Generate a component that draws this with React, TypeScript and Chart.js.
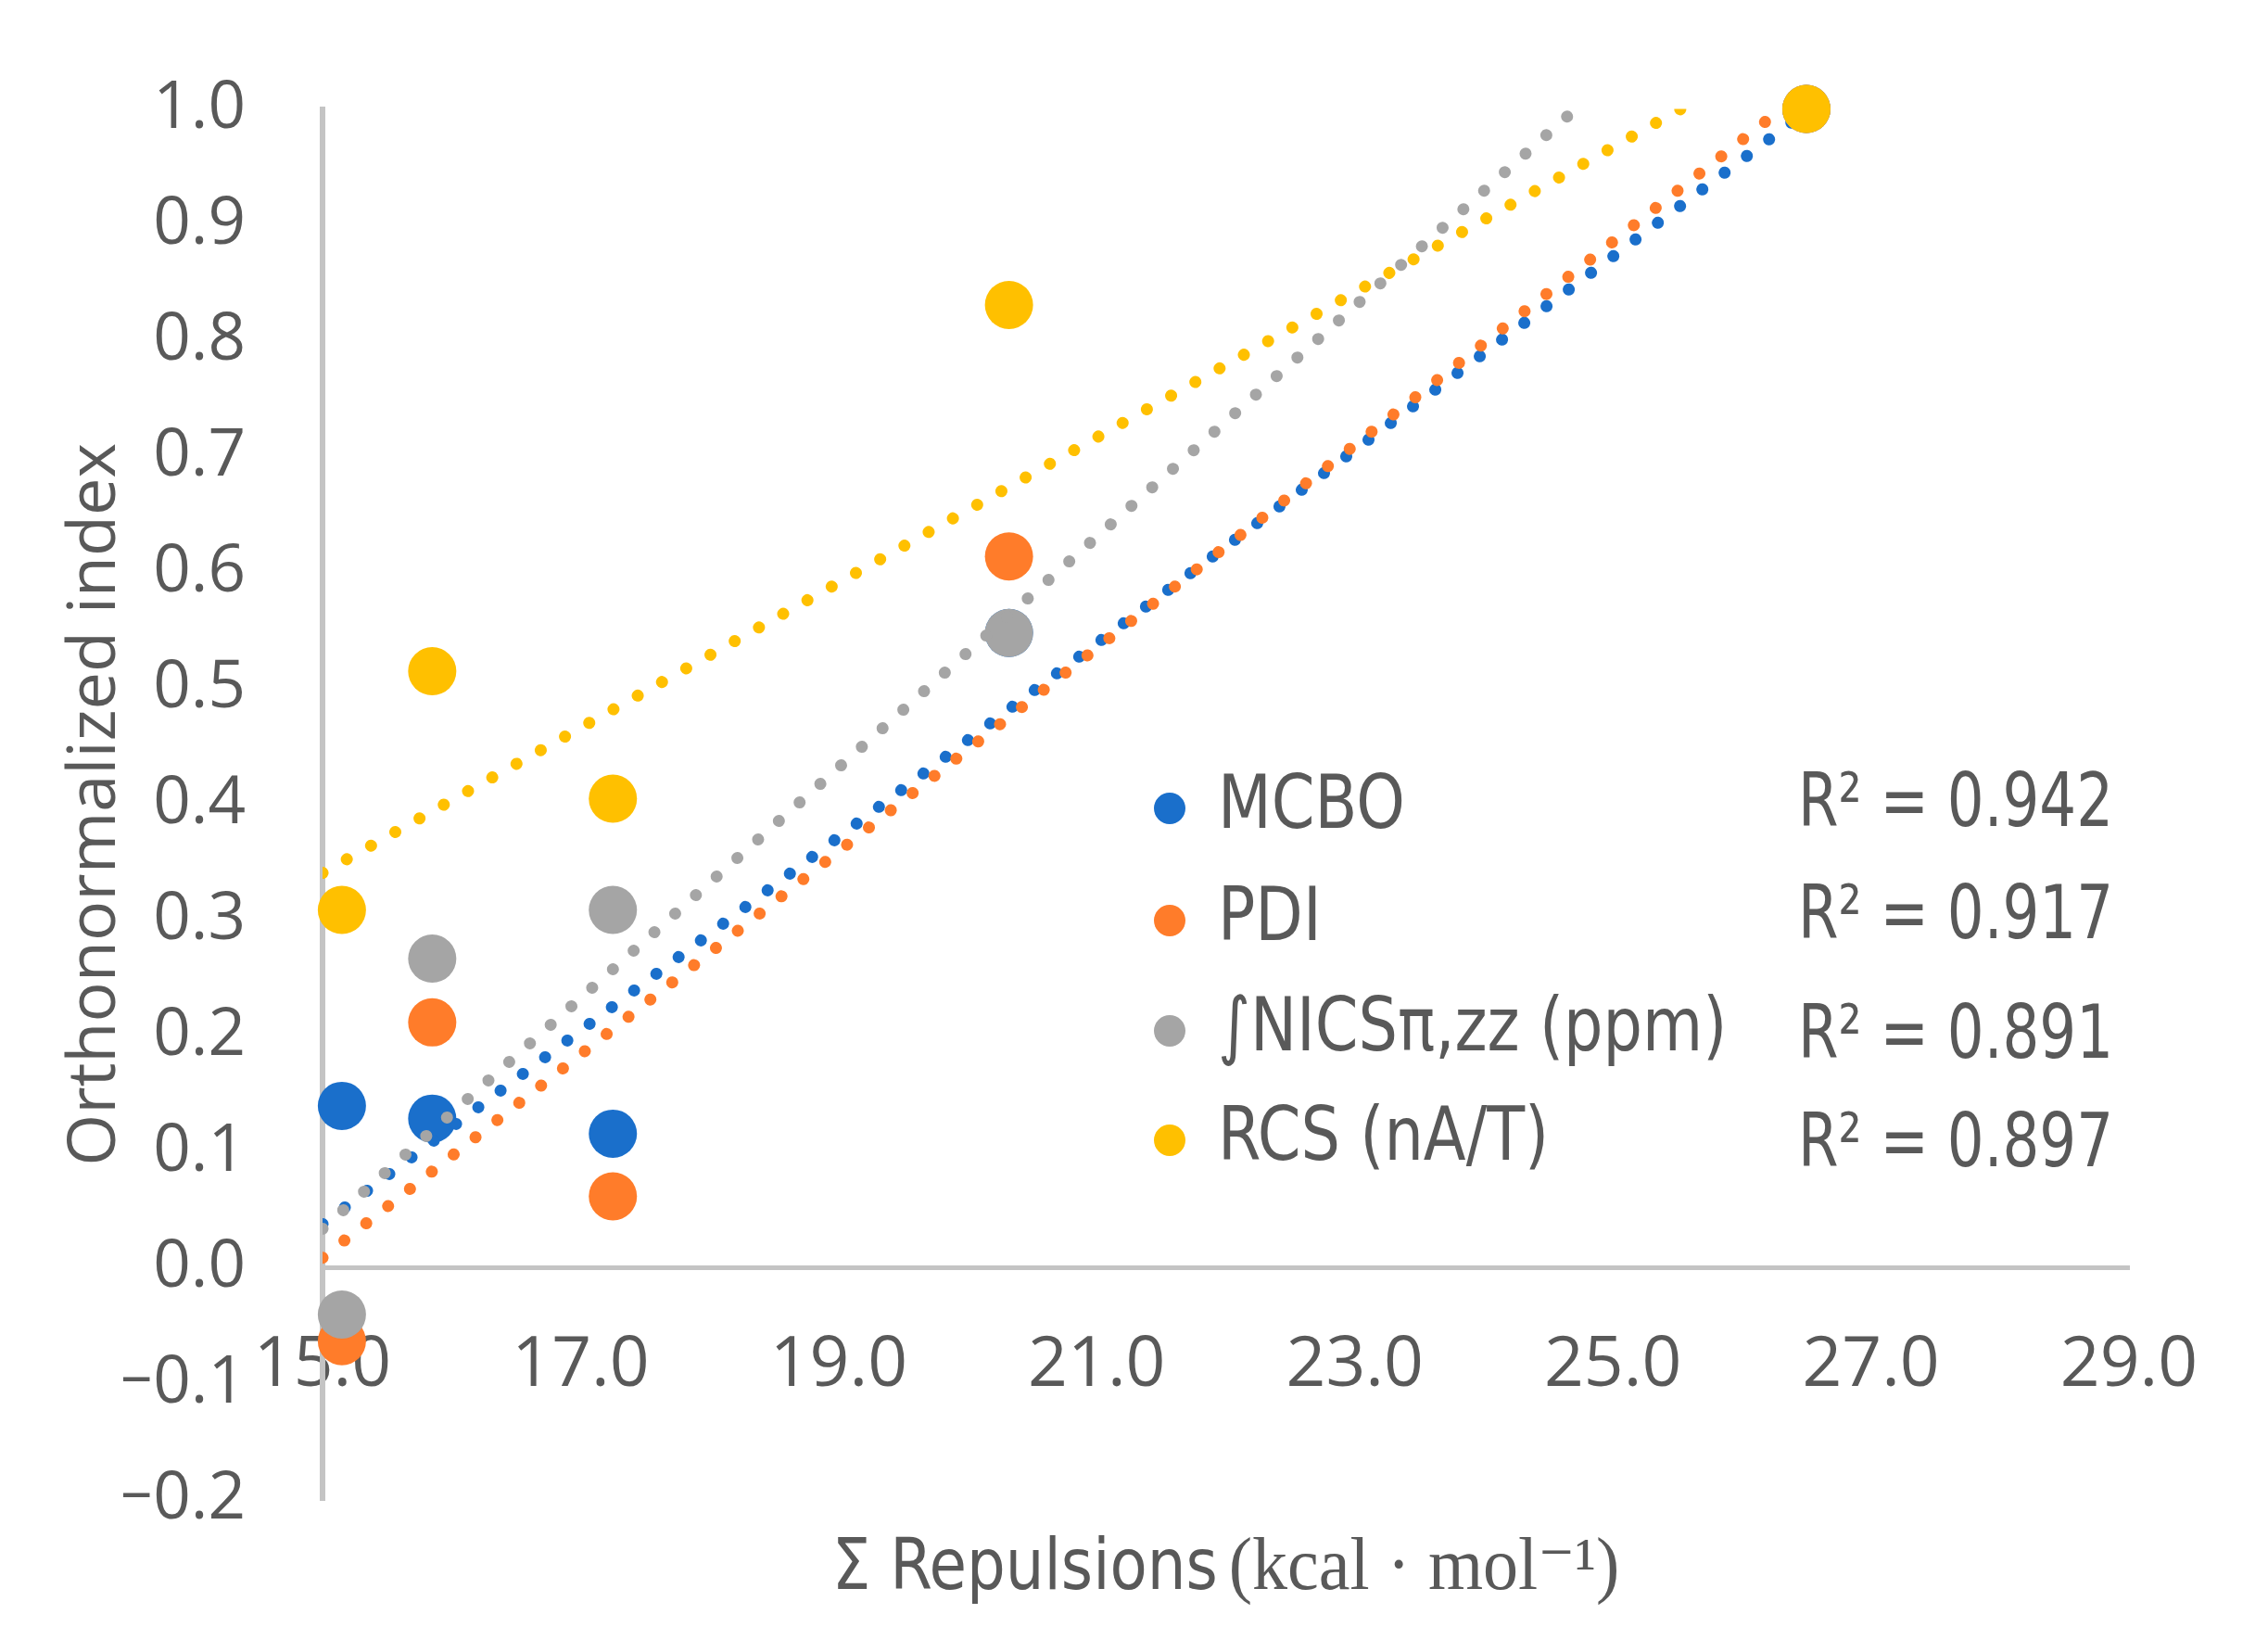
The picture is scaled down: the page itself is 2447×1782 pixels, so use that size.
import { useEffect, useRef } from 'react'
import Chart from 'chart.js/auto'

// Σ repulsions (kcal/mol) of the five systems, shared by all four indices
const repulsions = [15.15, 15.85, 17.25, 20.32, 26.5]

const mcbo = [0.14, 0.129, 0.116, 0.548, 1.0]
const pdi = [-0.063, 0.212, 0.062, 0.614, 1.0]
const nics = [-0.04, 0.267, 0.309, 0.548, 1.0]
const rcs = [0.309, 0.515, 0.405, 0.831, 1.0]

const seriesNames = ['MCBO', 'PDI', '∫NICSπ,zz (ppm)', 'RCS (nA/T)']
const rSquared = ['0.942', '0.917', '0.891', '0.897']
const colors = ['#1a6fcb', '#ff7c2a', '#a5a5a5', '#ffc000']

// linear trendlines, ends
const trendX0 = [15.0, 15.0, 15.0, 15.0]
const trendY0 = [0.038, 0.009, 0.034, 0.341]
const trendX1 = [26.5, 26.5, 26.5, 26.5]
const trendY1 = [0.998, 1.017, 1.178, 1.061]

const xTicks = [15, 17, 19, 21, 23, 25, 27, 29]
const yTicks = [-0.2, -0.1, 0, 0.1, 0.2, 0.3, 0.4, 0.5, 0.6, 0.7, 0.8, 0.9, 1.0]

const TEXT = '#595959'
const NARROW = "'Liberation Sans Narrow', 'DejaVu Sans Condensed', 'Open Sans', sans-serif"
const SANS = "'Open Sans', sans-serif"
const SERIF = "'Liberation Serif', 'DejaVu Serif', serif"

// draw text squeezed horizontally (the original uses a narrow face)
function squeezed(ctx: CanvasRenderingContext2D, text: string, x: number, y: number, sx: number) {
  ctx.save()
  ctx.translate(x, y)
  ctx.scale(sx, 1)
  ctx.fillText(text, 0, 0)
  ctx.restore()
}

const textPlugin = {
  id: 'textPlugin',
  afterDraw(chart: Chart) {
    const { ctx, chartArea } = chart
    ctx.save()
    ctx.fillStyle = TEXT

    // y axis title
    ctx.save()
    ctx.translate(103, (chartArea.top + chartArea.bottom) / 2)
    ctx.rotate(-Math.PI / 2)
    ctx.font = `72px ${SANS}`
    ctx.textAlign = 'center'
    ctx.textBaseline = 'middle'
    ctx.fillText('Orthonormalized index', 0, 0)
    ctx.restore()

    // x axis title, sans part + serif unit
    const sx = 0.95
    ctx.textAlign = 'left'
    ctx.textBaseline = 'alphabetic'
    const part1 = 'Σ Repulsions'
    const part2 = '(kcal · mol⁻¹)'
    ctx.font = `77px ${NARROW}`
    const w1 = ctx.measureText(part1).width * sx
    ctx.font = `80px ${SERIF}`
    const w2 = ctx.measureText(part2).width * sx
    const gap = 12
    const start = (chartArea.left + chartArea.right) / 2 - (w1 + gap + w2) / 2
    ctx.font = `77px ${NARROW}`
    squeezed(ctx, part1, start, 1714, sx)
    ctx.font = `80px ${SERIF}`
    squeezed(ctx, part2, start + w1 + gap, 1714, sx)

    // legend with R² column
    const rowY = [872, 993, 1112, 1230]
    const r2Y = [870, 991, 1120, 1237]
    ctx.textBaseline = 'middle'
    ctx.font = `80px ${NARROW}`
    seriesNames.forEach((name, i) => {
      ctx.fillStyle = colors[i]
      ctx.beginPath()
      ctx.arc(1262, rowY[i], 17, 0, Math.PI * 2)
      ctx.fill()
      ctx.fillStyle = TEXT
      squeezed(ctx, name, 1314, rowY[i], 0.93)
      squeezed(ctx, `R² = ${rSquared[i]}`, 1940, r2Y[i], 0.87)
    })
    ctx.restore()
  },
}

export default function App() {
  const canvasRef = useRef<HTMLCanvasElement>(null)
  const chartRef = useRef<Chart | null>(null)

  useEffect(() => {
    if (!canvasRef.current) return
    if (chartRef.current) chartRef.current.destroy()

    const series = [mcbo, pdi, nics, rcs]
    const datasets: any[] = []
    series.forEach((vals, i) => {
      datasets.push({
        label: seriesNames[i],
        data: repulsions.map((x, j) => ({ x, y: vals[j] })),
        backgroundColor: colors[i],
        pointBackgroundColor: colors[i],
        pointBorderWidth: 0,
        pointRadius: 26,
        pointHoverRadius: 26,
        showLine: false,
        clip: false,
        order: 8 - i * 2,
      })
      datasets.push({
        label: seriesNames[i] + ' trend',
        data: [
          { x: trendX0[i], y: trendY0[i] },
          { x: trendX1[i], y: trendY1[i] },
        ],
        showLine: true,
        borderColor: colors[i],
        borderWidth: 13,
        borderDash: [0.01, 30],
        borderCapStyle: 'round',
        pointRadius: 0,
        pointHoverRadius: 0,
        order: 7 - i * 2,
      })
    })

    chartRef.current = new Chart(canvasRef.current, {
      type: 'scatter',
      data: { datasets },
      options: {
        responsive: true,
        maintainAspectRatio: false,
        animation: false,
        layout: { padding: { left: 133, right: 150, top: 110, bottom: 164 } },
        plugins: { legend: { display: false }, tooltip: { enabled: false } },
        scales: {
          x: {
            type: 'linear',
            position: { y: 0 },
            min: 15,
            max: 29,
            grid: { display: false },
            border: { display: true, color: '#c4c4c4', width: 5 },
            afterBuildTicks: (scale: any) => {
              scale.ticks = xTicks.map((value) => ({ value }))
            },
            ticks: {
              color: TEXT,
              font: { family: SANS, size: 75 },
              padding: 53,
              maxRotation: 0,
              autoSkip: false,
              callback: (v: any) => Number(v).toFixed(1),
            },
          },
          y: {
            type: 'linear',
            position: 'left',
            min: -0.2,
            max: 1.0,
            grid: { display: false },
            border: { display: true, color: '#c4c4c4', width: 6 },
            afterFit: (scale: any) => {
              scale.width = 215
            },
            afterBuildTicks: (scale: any) => {
              scale.ticks = yTicks.map((value) => ({ value }))
            },
            ticks: {
              color: TEXT,
              font: { family: SANS, size: 71 },
              padding: 75,
              callback: (v: any) => {
                const n = Number(v)
                return (n < -1e-9 ? '\u2212' : '') + Math.abs(n).toFixed(1)
              },
            },
          },
        },
      },
      plugins: [textPlugin],
    })

    return () => {
      if (chartRef.current) {
        chartRef.current.destroy()
        chartRef.current = null
      }
    }
  }, [])

  return (
    <div style={{ position: 'fixed', left: 0, top: 0, width: 2447, height: 1782, background: '#fff' }}>
      <canvas ref={canvasRef} />
    </div>
  )
}
